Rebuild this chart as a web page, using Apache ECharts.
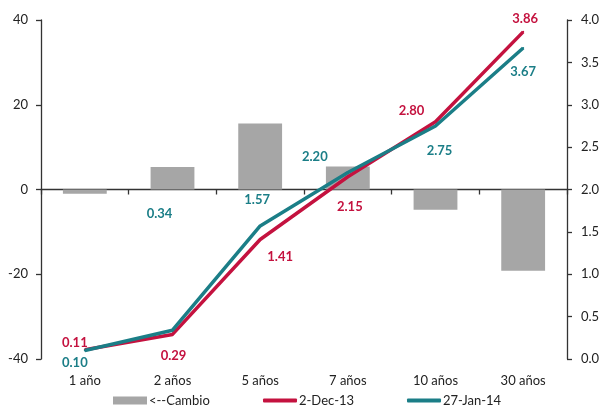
<!DOCTYPE html>
<html>
<head>
<meta charset="utf-8">
<script src="https://cdn.jsdelivr.net/npm/echarts@6/dist/echarts.min.js"></script>
<style>
  html, body { margin: 0; padding: 0; background: #fff; }
  #chart { width: 606px; height: 414px; }
</style>
</head>
<body>
<div id="chart"></div>
<script>
// Yield curve: two dates plus the change in basis points between them
const categories = ['1 año', '2 años', '5 años', '7 años', '10 años', '30 años'];
const cambio = [-1.0, 5.3, 15.6, 5.4, -4.8, -19.2];
const dec13 = [0.11, 0.29, 1.41, 2.15, 2.80, 3.86];
const jan14 = [0.10, 0.34, 1.57, 2.20, 2.75, 3.67];
const leftTicks = { min: -40, max: 40, interval: 20 };
const rightTicks = { min: 0, max: 4, interval: 0.5 };

// Label placement around each point [dx, dy]
const decOffsets = [[-10, -7], [1, 21], [20, 17], [2, 30], [-24, -11], [2, -13]];
const janOffsets = [[-10, 12], [-13, -116], [-3, -26], [-33, -16], [4, 25], [0, 24]];

const RED = '#C4123F';
const TEAL = '#1B7E87';
const FONT = 'Lato, "Liberation Sans", sans-serif';

function labelled(values, offsets, color) {
  return values.map((v, i) => ({
    value: v,
    label: {
      show: true,
      position: 'inside',
      offset: offsets[i],
      color: color,
      fontWeight: 'bold',
      fontSize: 13,
      fontFamily: FONT,
      formatter: (p) => p.value.toFixed(2)
    }
  }));
}

const chart = echarts.init(document.getElementById('chart'), null, { renderer: 'canvas' });

const legendBase = {
  bottom: 2,
  itemHeight: 8,
  itemWidth: 34,
  itemGap: 0,
  textStyle: { fontSize: 13, color: '#222', fontFamily: FONT, padding: [0, 0, 0, -3] }
};

chart.setOption({
  animation: false,
  backgroundColor: '#fff',
  grid: { left: 41, right: 39, top: 20, bottom: 55, containLabel: false },
  legend: [
    Object.assign({}, legendBase, { left: 108, data: [{ name: '<--Cambio', icon: 'rect' }] }),
    Object.assign({}, legendBase, { left: 258, itemHeight: 4, data: [{ name: '2-Dec-13', icon: 'roundRect' }] }),
    Object.assign({}, legendBase, { left: 402, itemHeight: 4, data: [{ name: '27-Jan-14', icon: 'roundRect' }] })
  ],
  xAxis: [
    {
      type: 'category',
      data: categories,
      position: 'bottom',
      axisLine: { show: false, onZero: false },
      axisTick: { show: false },
      axisLabel: { color: '#222', fontSize: 13, fontFamily: FONT, margin: 15 },
      splitLine: { show: false }
    },
    {
      type: 'category',
      data: categories,
      position: 'bottom',
      axisLine: { show: true, onZero: true, onZeroAxisIndex: 0, lineStyle: { color: '#333', width: 1.3 } },
      axisTick: { show: true, inside: false, length: 5, lineStyle: { color: '#333', width: 1.3 } },
      axisLabel: { show: false },
      splitLine: { show: false }
    }
  ],
  yAxis: [
    {
      type: 'value',
      min: leftTicks.min, max: leftTicks.max, interval: leftTicks.interval,
      axisLine: { show: true, lineStyle: { color: '#333', width: 1.3 } },
      axisTick: { show: true, inside: false, length: 5, lineStyle: { color: '#333', width: 1.3 } },
      axisLabel: { color: '#222', fontSize: 13, fontFamily: FONT, margin: 13 },
      splitLine: { show: false }
    },
    {
      type: 'value',
      position: 'right',
      min: rightTicks.min, max: rightTicks.max, interval: rightTicks.interval,
      axisLine: { show: true, lineStyle: { color: '#333', width: 1.3 } },
      axisTick: { show: true, inside: false, length: 5, lineStyle: { color: '#333', width: 1.3 } },
      axisLabel: { color: '#222', fontSize: 13, fontFamily: FONT, margin: 14, formatter: (v) => v.toFixed(1) },
      splitLine: { show: false }
    }
  ],
  series: [
    {
      name: '<--Cambio',
      type: 'bar',
      xAxisIndex: 0,
      yAxisIndex: 0,
      data: cambio,
      barWidth: '50%',
      itemStyle: { color: '#A6A6A6' },
      z: 1
    },
    {
      name: '2-Dec-13',
      type: 'line',
      xAxisIndex: 0,
      yAxisIndex: 1,
      data: labelled(dec13, decOffsets, RED),
      symbol: 'circle',
      symbolSize: 2,
      itemStyle: { color: RED },
      lineStyle: { color: RED, width: 3.5 },
      z: 3
    },
    {
      name: '27-Jan-14',
      type: 'line',
      xAxisIndex: 0,
      yAxisIndex: 1,
      data: labelled(jan14, janOffsets, TEAL),
      symbol: 'circle',
      symbolSize: 2,
      itemStyle: { color: TEAL },
      lineStyle: { color: TEAL, width: 3.5 },
      z: 4
    }
  ]
});
</script>
</body>
</html>
